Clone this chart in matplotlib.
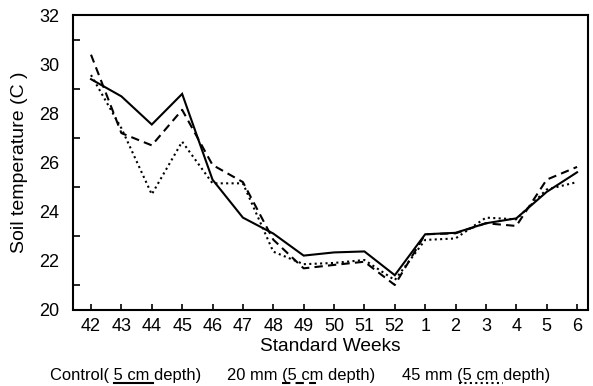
import matplotlib
matplotlib.use("Agg")
import matplotlib.pyplot as plt
from matplotlib.lines import Line2D

plt.rcParams['font.family'] = ['Liberation Sans', 'DejaVu Sans']

weeks = ["42", "43", "44", "45", "46", "47", "48", "49", "50", "51", "52",
         "1", "2", "3", "4", "5", "6"]
control = [29.4, 28.7, 27.55, 28.8, 25.3, 23.75, 23.1, 22.2, 22.33, 22.37, 21.4,
           23.07, 23.13, 23.52, 23.72, 24.8, 25.6]
mulch20 = [30.4, 27.2, 26.7, 28.15, 25.9, 25.2, 22.85, 21.68, 21.82, 21.95, 21.0,
           23.07, 23.11, 23.52, 23.41, 25.3, 25.82]
mulch45 = [29.57, 27.4, 24.7, 26.85, 25.15, 25.15, 22.36, 21.85, 21.9, 22.02, 21.2,
           22.84, 22.9, 23.75, 23.68, 24.9, 25.2]
legend_labels = ["Control( 5 cm depth)", "20 mm (5 cm depth)", "45 mm (5 cm depth)"]

W, H = 593, 386
fig = plt.figure(figsize=(W / 100, H / 100), dpi=100)
ax = fig.add_axes([73 / W, 1 - 309.5 / H, (588 - 73) / W, (309.5 - 15.5) / H])

x = list(range(len(weeks)))
ax.plot(x, control, color='black', lw=1.5, solid_joinstyle='miter')
ax.plot(x, mulch20, color='black', lw=1.5, linestyle=(0, (4, 2.5)))
ax.plot(x, mulch45, color='black', lw=1.5, linestyle=(0, (1, 1.6)))

ax.set_xlim(-0.593, 16.36)
ax.set_ylim(20, 32)
ax.set_xticks(x)
ax.set_xticklabels(weeks, fontsize=13)
ax.set_yticks([20, 22, 24, 26, 28, 30, 32])
ax.set_yticks([21, 23, 25, 27, 29, 31], minor=True)
ax.tick_params(axis='y', which='major', length=0, pad=10, labelsize=13)
ax.tick_params(axis='y', which='minor', direction='in', length=5, width=1.2)
ax.tick_params(axis='x', which='major', direction='in', length=4, width=1.2, pad=6)
for s in ax.spines.values():
    s.set_linewidth(1.5)

ax.set_xlabel("Standard Weeks", fontsize=13.8, labelpad=2)
ax.set_ylabel("Soil temperature (C )", fontsize=14, labelpad=8)

def fy(py):
    return 1 - py / H

base = 380
fs = 11.9
fig.text(50 / W, fy(base), legend_labels[0], fontsize=fs, va='baseline', ha='left')
fig.text(227 / W, fy(base), legend_labels[1], fontsize=fs, va='baseline', ha='left')
fig.text(402 / W, fy(base), legend_labels[2], fontsize=fs, va='baseline', ha='left')

uy = fy(383)
fig.add_artist(Line2D([114 / W, 153 / W], [uy, uy], color='black', lw=1.5,
                      transform=fig.transFigure))
fig.add_artist(Line2D([282 / W, 316 / W], [uy, uy], color='black', lw=1.5,
                      linestyle=(0, (4, 2.5)), transform=fig.transFigure))
fig.add_artist(Line2D([459 / W, 503 / W], [uy, uy], color='black', lw=1.5,
                      linestyle=(0, (1, 1.6)), transform=fig.transFigure))

fig.savefig("out.png", dpi=100)
